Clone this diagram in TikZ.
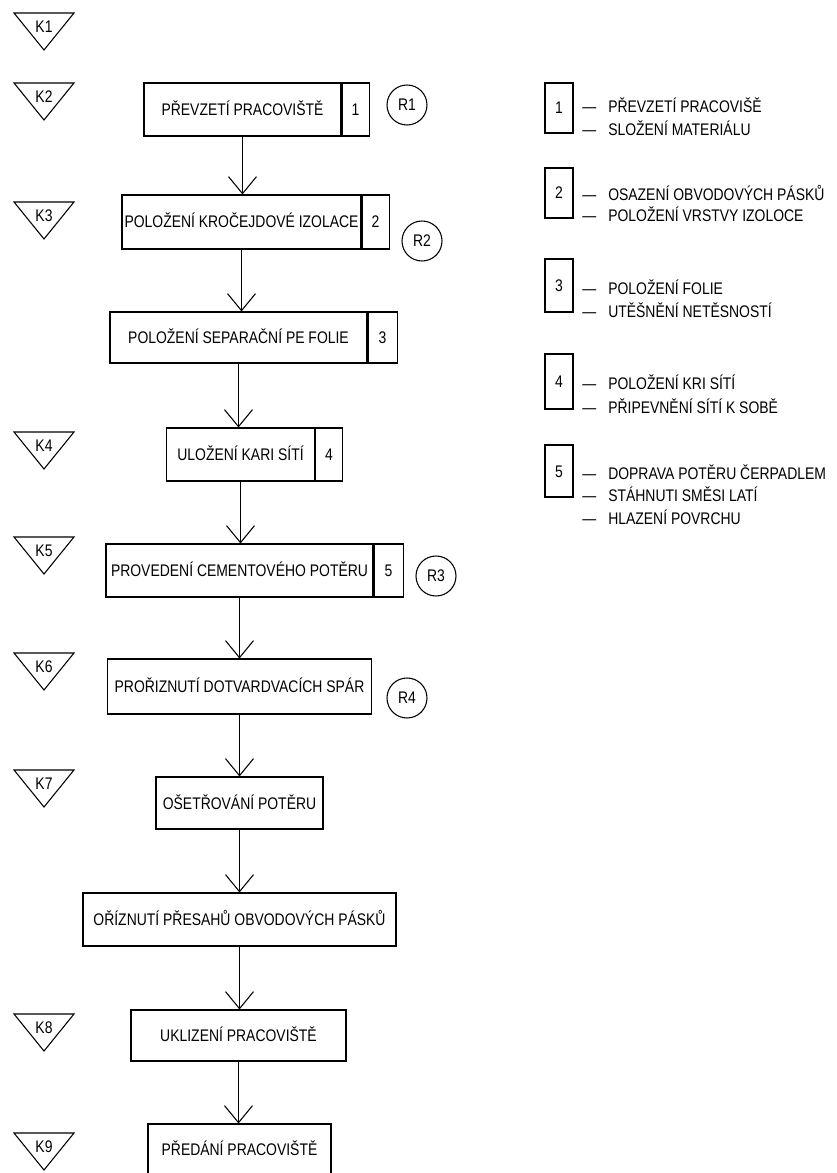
\documentclass[tikz,border=0pt]{standalone}
\usepackage{fontspec}
\setmainfont{Liberation Sans}[FakeStretch=0.83]
\usetikzlibrary{arrows.meta}
\begin{document}
\begin{tikzpicture}[x=0.75pt,y=-0.75pt,
  every node/.style={font=\fontsize{12.6}{14}\selectfont, text=black},
  box/.style={draw, line width=0.8pt, inner sep=0pt, text height=9pt, text depth=0pt},
  sz/.style 2 args={minimum width=#1*0.75pt, minimum height=#2*0.75pt},
  ref/.style={draw, circle, line width=0.8pt, minimum size=30pt, inner sep=0pt},
  flow/.style={line width=0.8pt, -{Straight Barb[length=12.75pt,width=21pt,line width=0.8pt]}},
  legtext/.style={anchor=base west, inner sep=0pt},
  kmark/.style={line width=0.8pt, line join=miter}
]
\useasboundingbox (0,0) rectangle (836,1173);
\clip (0,0) rectangle (836,1173);

% K markers
\foreach \k/\t in {1/13,2/83,3/202,4/432,5/537,6/653,7/770,8/1014,9/1133} {
  \draw[kmark] (14,\t) -- (74,\t) -- (44,\t+37) -- cycle;
  \node[inner sep=0pt, text height=9pt, text depth=0pt] (k\k) at (44,\t+13.5) {K\k};
}

% main boxes
\node[box, sz={197}{53}] (b1) at (242.5,109.5) {PŘEVZETÍ PRACOVIŠTĚ};
\node[box, sz={27}{53}, anchor=west] (n1) at (b1.east) {1};
\node[box, sz={239}{54}] (b2) at (241.5,222) {POLOŽENÍ KROČEJDOVÉ IZOLACE};
\node[box, sz={27}{54}, anchor=west] (n2) at (b2.east) {2};
\node[box, sz={257}{51}] (b3) at (238.5,337.5) {POLOŽENÍ SEPARAČNÍ PE FOLIE};
\node[box, sz={29}{51}, anchor=west] (n3) at (b3.east) {3};
\node[box, sz={148}{53}] (b4) at (240.5,454.5) {ULOŽENÍ KARI SÍTÍ};
\node[box, sz={27}{53}, anchor=west] (n4) at (b4.east) {4};
\node[box, sz={267}{53}] (b5) at (239.5,570.5) {PROVEDENÍ CEMENTOVÉHO POTĚRU};
\node[box, sz={29}{53}, anchor=west] (n5) at (b5.east) {5};
\node[box, sz={264}{55}] (b6) at (239.5,686.5) {PROŘIZNUTÍ DOTVARDVACÍCH SPÁR};
\node[box, sz={167}{52}] (b7) at (239.5,803) {OŠETŘOVÁNÍ POTĚRU};
\node[box, sz={313}{53}] (b8) at (239.5,919.5) {OŘÍZNUTÍ PŘESAHŮ OBVODOVÝCH PÁSKŮ};
\node[box, sz={215}{51}] (b9) at (238.5,1035.5) {UKLIZENÍ PRACOVIŠTĚ};
\node[box, sz={183}{51}] (b10) at (239.5,1149.5) {PŘEDÁNÍ PRACOVIŠTĚ};

% reference circles
\node[ref] (r1) at (407,105) {R1};
\node[ref] (r2) at (422,241) {R2};
\node[ref] (r3) at (436,576) {R3};
\node[ref] (r4) at (407,698) {R4};

% flow arrows
\foreach \a/\b in {b1/b2,b2/b3,b3/b4,b4/b5,b5/b6,b6/b7,b7/b8,b8/b9,b9/b10} {
  \draw[flow] (\a.south) -- (\a.south |- \b.north);
}

% legend
\node[box, sz={28}{50}] (leg1) at (559,108) {1};
\node[box, sz={28}{50}] (leg2) at (559,193) {2};
\node[box, sz={28}{53}] (leg3) at (559,285.5) {3};
\node[box, sz={28}{55}] (leg4) at (559,381.5) {4};
\node[box, sz={28}{52}] (leg5) at (559,471) {5};

\node[legtext] (l1a) at (582,113) {\makebox[19.5pt][l]{—}PŘEVZETÍ PRACOVIŠĚ};
\node[legtext] (l1b) at (582,136) {\makebox[19.5pt][l]{—}SLOŽENÍ MATERIÁLU};
\node[legtext] (l2a) at (582,201) {\makebox[19.5pt][l]{—}OSAZENÍ OBVODOVÝCH PÁSKŮ};
\node[legtext] (l2b) at (582,222) {\makebox[19.5pt][l]{—}POLOŽENÍ VRSTVY IZOLOCE};
\node[legtext] (l3a) at (582,294) {\makebox[19.5pt][l]{—}POLOŽENÍ FOLIE};
\node[legtext] (l3b) at (582,317) {\makebox[19.5pt][l]{—}UTĚŠNĚNÍ NETĚSNOSTÍ};
\node[legtext] (l4a) at (582,389) {\makebox[19.5pt][l]{—}POLOŽENÍ KRI SÍTÍ};
\node[legtext] (l4b) at (582,413) {\makebox[19.5pt][l]{—}PŘIPEVNĚNÍ SÍTÍ K SOBĚ};
\node[legtext] (l5a) at (582,479) {\makebox[19.5pt][l]{—}DOPRAVA POTĚRU ČERPADLEM};
\node[legtext] (l5b) at (582,501) {\makebox[19.5pt][l]{—}STÁHNUTI SMĚSI LATÍ};
\node[legtext] (l5c) at (582,524) {\makebox[19.5pt][l]{—}HLAZENÍ POVRCHU};
\end{tikzpicture}
\end{document}
